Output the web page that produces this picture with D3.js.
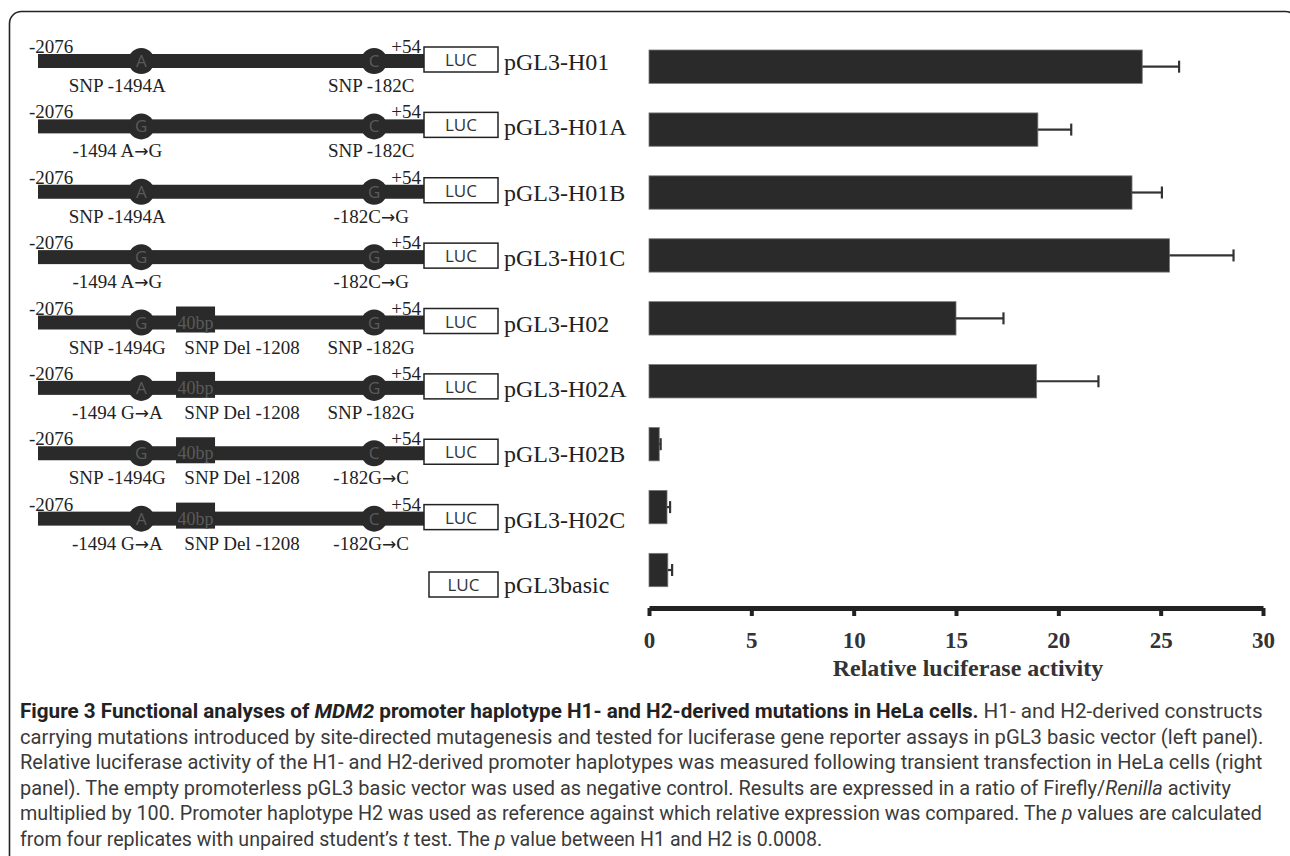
<!DOCTYPE html>
<html><head><meta charset="utf-8">
<script src="https://cdn.jsdelivr.net/npm/d3@7"></script>
<style>body{margin:0;background:#fff} svg{display:block}</style>
</head><body><svg id="c" width="1290" height="856"></svg>
<script>
// ---- data ----
const constructs = ["pGL3-H01","pGL3-H01A","pGL3-H01B","pGL3-H01C","pGL3-H02","pGL3-H02A","pGL3-H02B","pGL3-H02C","pGL3basic"];
const activity    = [24.1, 19.0, 23.6, 25.43, 15.0, 18.94, 0.5, 0.88, 0.92];
const activityErr = [1.8, 1.63, 1.46, 3.13, 2.32, 3.02, 0.07, 0.15, 0.21];
const axisTicks = [0, 5, 10, 15, 20, 25, 30];
const allele1494 = ["A","G","A","G","G","A","G","A",null];
const allele182  = ["C","C","G","G","G","G","C","C",null];
const hasDel     = [false,false,false,false,true,true,true,true,false];
const label1494 = [["SNP -1494A"],["-1494 A","\u2192","G"],["SNP -1494A"],["-1494 A","\u2192","G"],["SNP -1494G"],["-1494 G","\u2192","A"],["SNP -1494G"],["-1494 G","\u2192","A"],null];
const label182  = [["SNP -182C"],["SNP -182C"],["-182C","\u2192","G"],["-182C","\u2192","G"],["SNP -182G"],["SNP -182G"],["-182G","\u2192","C"],["-182G","\u2192","C"],null];
const labelDel = "SNP Del -1208";
const promoterStart = -2076, promoterEnd = 54;
const siteSNP1 = -1494, siteDel = -1208, siteSNP2 = -182;
const axisTitle = "Relative luciferase activity";
const captionLines = [
  [["Figure 3 Functional analyses of ","b"],["MDM2","bi"],[" promoter haplotype H1- and H2-derived mutations in HeLa cells.","b"],[" H1- and H2-derived constructs","r"]],
  [["carrying mutations introduced by site-directed mutagenesis and tested for luciferase gene reporter assays in pGL3 basic vector (left panel).","r"]],
  [["Relative luciferase activity of the H1- and H2-derived promoter haplotypes was measured following transient transfection in HeLa cells (right","r"]],
  [["panel). The empty promoterless pGL3 basic vector was used as negative control. Results are expressed in a ratio of Firefly/","r"],["Renilla","i"],[" activity","r"]],
  [["multiplied by 100. Promoter haplotype H2 was used as reference against which relative expression was compared. The ","r"],["p","i"],[" values are calculated","r"]],
  [["from four replicates with unpaired student\u2019s ","r"],["t","i"],[" test. The ","r"],["p","i"],[" value between H1 and H2 is 0.0008.","r"]]
];
const captionEnds = [1263, 1264, 1263, 1232, 1263, 823];

// ---- drawing ----
const svg = d3.select("#c");
const serif = "'Liberation Serif','Times New Roman',serif";
const sans = "'Open Sans','Noto Sans',sans-serif";
const capFont = "Roboto,'Open Sans',sans-serif";
const dark = "#2a2a2a";

// frame
svg.append("rect").attr("x",9.5).attr("y",11.5).attr("width",1288).attr("height",900)
  .attr("rx",12).attr("fill","none").attr("stroke","#222").attr("stroke-width",1.6);

// scales
const rowY = d3.scalePoint().domain(constructs).range([61, 584]);
const barY = d3.scaleBand().domain(constructs).range([50, 586.7]).paddingInner(0.47).paddingOuter(0);
const x = d3.scaleLinear().domain([0, 30]).range([649, 1263]);
const gx = d3.scaleLinear().domain([promoterStart, promoterEnd]).range([38, 416]);
const lucLeft = gx(promoterEnd) + 8, lucRight = 498;

function addLabel(g, parts, xx, yy) {
  const t = g.append("text").attr("x", xx).attr("y", yy).attr("text-anchor","middle")
    .attr("font-family", serif).attr("font-size", 19).attr("fill", "#222");
  parts.forEach(p => {
    const ts = t.append("tspan").text(p);
    if (p === "\u2192") ts.attr("font-family", "'DejaVu Sans',sans-serif").attr("font-size", 17);
  });
}

// left panel schematics
constructs.forEach((c, i) => {
  const cy = rowY(c);
  const g = svg.append("g");
  if (allele1494[i] !== null) {
    g.append("rect").attr("x", gx(promoterStart)).attr("y", cy - 7).attr("width", lucLeft - gx(promoterStart)).attr("height", 14).attr("fill", dark);
    g.append("text").attr("x", gx(promoterStart) - 9).attr("y", cy - 8).text(String(promoterStart))
      .attr("font-family", serif).attr("font-size", 19).attr("fill", "#222");
    g.append("text").attr("x", lucLeft - 3).attr("y", cy - 8).attr("text-anchor","end").text("+" + promoterEnd)
      .attr("font-family", serif).attr("font-size", 19).attr("fill", "#222");
    [[siteSNP1, allele1494[i]], [siteSNP2, allele182[i]]].forEach(([s, a]) => {
      g.append("circle").attr("cx", gx(s)).attr("cy", cy).attr("r", 13).attr("fill", dark);
      g.append("text").attr("x", gx(s)).attr("y", cy + 6).attr("text-anchor","middle").text(a)
        .attr("font-family", sans).attr("font-size", 17).attr("fill", "#5a5a5a");
    });
    if (hasDel[i]) {
      g.append("rect").attr("x", gx(siteDel) - 16).attr("y", cy - 16).attr("width", 39).attr("height", 26).attr("fill", dark);
      g.append("text").attr("x", gx(siteDel) + 3.5).attr("y", cy + 6).attr("text-anchor","middle").text("40bp")
        .attr("font-family", serif).attr("font-size", 18).attr("fill", "#5a5a5a");
      addLabel(g, [labelDel], gx(siteDel) + 50, cy + 31);
    }
    addLabel(g, label1494[i], gx(siteSNP1) - 24, cy + 31);
    addLabel(g, label182[i], gx(siteSNP2) - 3, cy + 31);
    g.append("rect").attr("x", lucLeft).attr("y", cy - 14).attr("width", lucRight - lucLeft).attr("height", 25)
      .attr("fill", "#fff").attr("stroke", "#222").attr("stroke-width", 1.5);
  } else {
    g.append("rect").attr("x", lucLeft + 5).attr("y", cy - 12).attr("width", lucRight - lucLeft - 5).attr("height", 25)
      .attr("fill", "#fff").attr("stroke", "#222").attr("stroke-width", 1.5);
  }
  const lx = allele1494[i] !== null ? (lucLeft + lucRight) / 2 : (lucLeft + 5 + lucRight) / 2;
  const ly = allele1494[i] !== null ? cy + 5 : cy + 7;
  g.append("text").attr("x", lx).attr("y", ly).attr("text-anchor","middle").text("LUC")
    .attr("font-family", sans).attr("font-size", 17).attr("fill", "#333");
  g.append("text").attr("x", lucRight + 6).attr("y", cy + 9).text(c)
    .attr("font-family", serif).attr("font-size", 24).attr("fill", "#222");
});

// bars
const data = constructs.map((c, i) => ({c, v: activity[i], e: activityErr[i]}));
svg.append("g").selectAll("rect").data(data).join("rect")
  .attr("x", x(0)).attr("y", d => barY(d.c)).attr("width", d => x(d.v) - x(0)).attr("height", barY.bandwidth())
  .attr("fill", dark).attr("stroke", "#777").attr("stroke-width", 0.8);
const eg = svg.append("g").attr("stroke", "#333").attr("stroke-width", 2.2);
eg.selectAll("line.h").data(data).join("line").attr("class","h")
  .attr("x1", d => x(d.v)).attr("x2", d => x(d.v + d.e))
  .attr("y1", d => barY(d.c) + barY.bandwidth()/2).attr("y2", d => barY(d.c) + barY.bandwidth()/2);
eg.selectAll("line.cap").data(data).join("line").attr("class","cap")
  .attr("x1", d => x(d.v + d.e)).attr("x2", d => x(d.v + d.e))
  .attr("y1", d => barY(d.c) + barY.bandwidth()/2 - 6).attr("y2", d => barY(d.c) + barY.bandwidth()/2 + 6);

// axis
const axis = d3.axisBottom(x).tickValues(axisTicks).tickSize(8).tickSizeOuter(0);
const ag = svg.append("g").attr("transform", "translate(0,608)").call(axis);
ag.select(".domain").attr("stroke", "#222").attr("stroke-width", 5);
ag.selectAll(".tick line").attr("stroke", "#222").attr("stroke-width", 4);
ag.selectAll(".tick text").attr("y", 40).attr("dy", 0).attr("font-family", serif).attr("font-weight", "bold")
  .attr("font-size", 23).attr("fill", "#333");
svg.append("text").attr("x", 968).attr("y", 676).attr("text-anchor","middle").text(axisTitle)
  .attr("font-family", serif).attr("font-weight","bold").attr("font-size", 24).attr("fill", "#333");

// caption
const capX = 20;
captionLines.forEach((segs, li) => {
  const t = svg.append("text").attr("font-family", capFont).attr("font-size", 21).attr("fill", "#3a3a3a");
  segs.forEach(([s, st]) => {
    const ts = t.append("tspan").text(s);
    if (st.includes("b")) ts.attr("font-weight", "bold").attr("fill", "#222");
    if (st.includes("i")) ts.attr("font-style", "italic");
  });
  const w = t.node().getComputedTextLength();
  const sx = (captionEnds[li] - capX) / w;
  t.attr("transform", `translate(${capX},${718 + li * 25.5}) scale(${sx},1)`);
});
</script></body></html>
